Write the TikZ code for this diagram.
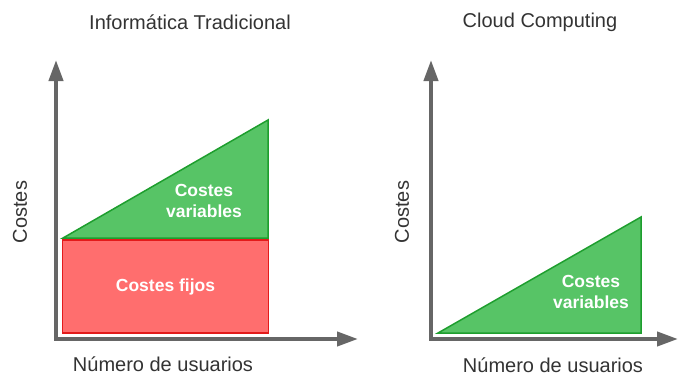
\documentclass[tikz,border=0pt]{standalone}
\usepackage{fontspec}
\setmainfont{Liberation Sans}
\usetikzlibrary{arrows.meta}
\definecolor{axisgray}{HTML}{666666}
\definecolor{textgray}{HTML}{333333}
\definecolor{greenfill}{HTML}{57C466}
\definecolor{greenline}{HTML}{1E9E2E}
\definecolor{redfill}{HTML}{FF6E6E}
\definecolor{redline}{HTML}{E31B1B}
\tikzset{
  axis/.style={draw=axisgray, line width=4pt, line join=miter,
    {Triangle[length=21pt,width=14pt]}-{Triangle[length=21pt,width=14pt]}},
  title/.style={text=textgray, font=\fontsize{20}{24}\selectfont},
  axislabel/.style={text=textgray, inner sep=0pt, font=\fontsize{20}{24}\selectfont},
  inlabel/.style={text=white, font=\bfseries\fontsize{17.5}{21}\selectfont, align=center},
  greenarea/.style={fill=greenfill, draw=greenline, line width=1.5pt, line join=miter},
  redarea/.style={fill=redfill, draw=redline, line width=1.5pt},
}
\begin{document}
\begin{tikzpicture}[x=1pt, y=-1pt]
  \useasboundingbox (0,0) rectangle (678,376);

  % ---- traditional IT ----
  \node[title] (t1) at (190,22) {Informática Tradicional};
  \node[redarea, minimum width=206pt, minimum height=93pt, inner sep=0pt] (fixed) at (165.5,286.5) {};
  \node[inlabel] (fixedlbl) at (fixed.center) {Costes fijos};
  \draw[greenarea] (63,238) coordinate (g1a) -- (268,120) coordinate (g1b) -- (268,238) coordinate (g1c) -- cycle;
  \node[inlabel] (var1) at (204,201) {Costes\\variables};
  \coordinate (o1) at (56,339);
  \coordinate (y1) at (56,60);
  \coordinate (x1) at (358,339);
  \draw[axis] (y1) -- (o1) -- (x1);
  \node[axislabel, rotate=90] (c1) at (20,212) {Costes};
  \node[axislabel] (n1) at (163,364) {Número de usuarios};

  % ---- cloud computing ----
  \node[title] (t2) at (540,22) {Cloud Computing};
  \draw[greenarea] (438,333) coordinate (g2a) -- (641,217) coordinate (g2b) -- (641,333) coordinate (g2c) -- cycle;
  \node[inlabel] (var2) at (591,292) {Costes\\variables};
  \coordinate (o2) at (431,339);
  \coordinate (y2) at (431,60);
  \coordinate (x2) at (678,339);
  \draw[axis] (y2) -- (o2) -- (x2);
  \node[axislabel, rotate=90] (c2) at (402,212) {Costes};
  \node[axislabel] (n2) at (553,365) {Número de usuarios};
\end{tikzpicture}
\end{document}
